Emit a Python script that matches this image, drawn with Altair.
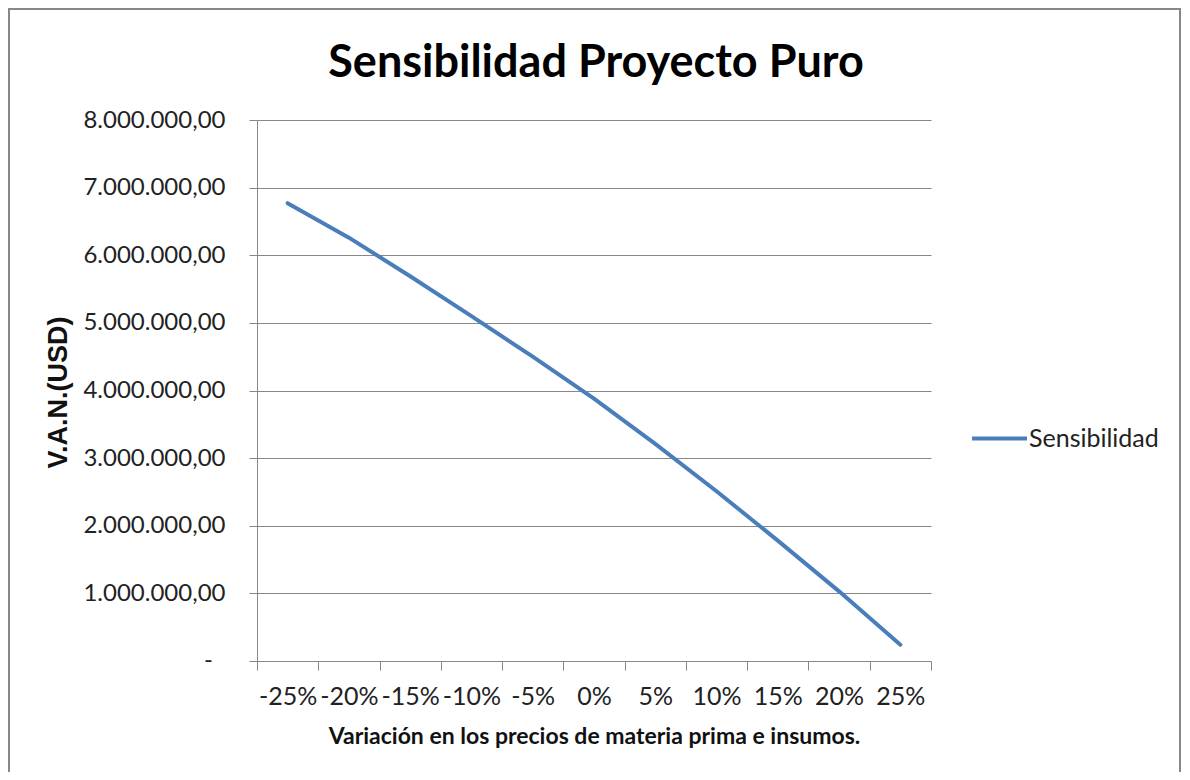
import altair as alt
import pandas as pd

# ---- data ----
categories = ["-25%", "-20%", "-15%", "-10%", "-5%", "0%", "5%", "10%", "15%", "20%", "25%"]
van_values = [6770000, 6260000, 5690000, 5100000, 4500000, 3880000, 3210000,
              2510000, 1780000, 1030000, 240000]
y_ticks = [0, 1000000, 2000000, 3000000, 4000000, 5000000, 6000000, 7000000, 8000000]
zero_label = "-"
series_name = "Sensibilidad"
title_text = "Sensibilidad Proyecto Puro"
x_title = "Variación en los precios de materia prima e insumos."
y_title = "V.A.N.(USD)"

df = pd.DataFrame({"cat": categories, "van": van_values,
                   "serie": [series_name] * len(categories)})

W, H = 674, 541
GRAY = "#878787"
TXT = "#222222"

line = alt.Chart(df).mark_line(strokeWidth=4, strokeCap="round", strokeJoin="round").encode(
    x=alt.X("cat:N", sort=categories, bandPosition=0.5,
            scale=alt.Scale(type="band", paddingInner=0, paddingOuter=0),
            axis=alt.Axis(tickBand="extent", labelAngle=0, grid=False, tickSize=9,
                          tickColor=GRAY, domainColor=GRAY, labelFont="Lato",
                          labelFontSize=25, labelColor=TXT, labelBaseline="alphabetic",
                          labelPadding=34, labelOverlap=False, title=x_title,
                          titleFont="Lato", titleFontSize=23, titleFontWeight="bold",
                          titleColor="#111111", titleBaseline="alphabetic", titleY=82)),
    y=alt.Y("van:Q", scale=alt.Scale(domain=[0, 8000000], nice=False),
            axis=alt.Axis(values=y_ticks,
                          labelExpr="datum.value == 0 ? '' : format(datum.value / 1000000, 'd') + '.000.000,00'",
                          tickSize=8, tickColor=GRAY, domainColor=GRAY, grid=True,
                          gridColor=GRAY, labelFont="Lato", labelFontSize=24,
                          labelColor=TXT, labelPadding=24, title=y_title,
                          titleFont="Liberation Sans", titleFontSize=27,
                          titleFontWeight="bold", titleColor="#111111",
                          titleX=-199, titleY=272, titleBaseline="middle")),
    color=alt.Color("serie:N", scale=alt.Scale(range=["#4A7EBB"]),
                    legend=alt.Legend(title=None, orient="none", legendX=713, legendY=289,
                                      symbolType="stroke", symbolSize=3025,
                                      symbolStrokeWidth=4, labelFont="Lato",
                                      labelFontSize=25, labelColor=TXT, labelOffset=0,
                                      padding=0)),
)

# Excel-style "-" label for the zero tick
zero_mark = alt.Chart(pd.DataFrame({"lab": [zero_label]})).mark_text(
    font="Lato", fontSize=24, align="right", baseline="middle", color=TXT).encode(
    x=alt.value(-44), y=alt.datum(0), text="lab:N")

border = alt.Chart(pd.DataFrame({"a": [0]})).mark_rect(
    fillOpacity=0, stroke=GRAY, strokeWidth=2).encode(
    x=alt.value(-248), x2=alt.value(923), y=alt.value(-111), y2=alt.value(700))

title_mark = alt.Chart(pd.DataFrame({"t": [title_text]})).mark_text(
    font="Lato", fontSize=45, fontWeight="bold", align="center",
    baseline="alphabetic", color="#000000").encode(
    x=alt.value(339), y=alt.value(-43.5), text="t:N")

chart = alt.layer(border, line, zero_mark, title_mark).properties(
    width=W, height=H,
    autosize=alt.AutoSizeParams(type="none"),
    padding={"left": 249, "top": 112, "right": 251, "bottom": 111},
    background="white",
).configure_view(strokeWidth=0)

chart.save("out.html", embed_options={"renderer": "svg", "actions": False})
